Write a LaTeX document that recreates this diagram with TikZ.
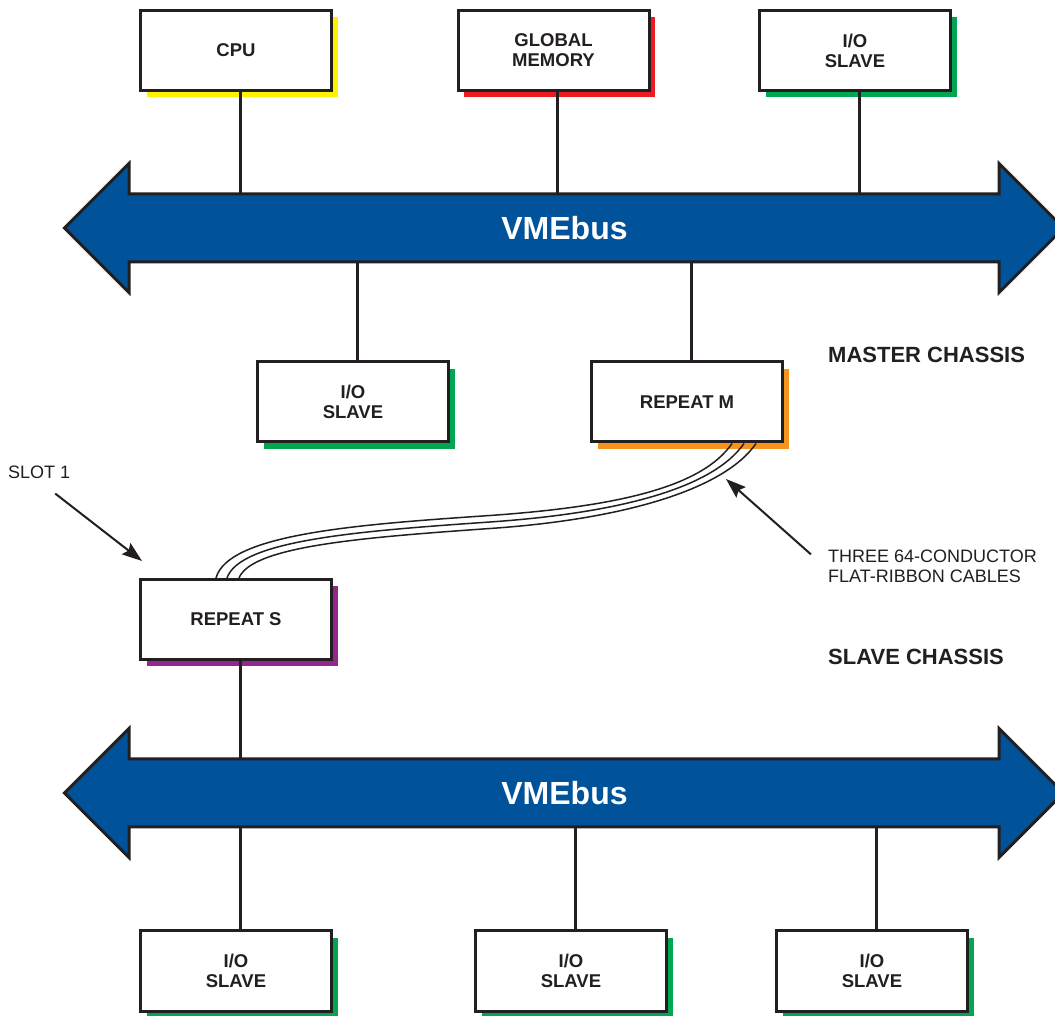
\documentclass[tikz,border=0pt]{standalone}
\usepackage{fontspec}
\setmainfont{Liberation Sans}
\usetikzlibrary{arrows.meta,shadows}
\definecolor{ink}{HTML}{231F20}
\definecolor{busblue}{HTML}{00529B}
\definecolor{shyellow}{HTML}{FFF200}
\definecolor{shred}{HTML}{ED1C24}
\definecolor{shgreen}{HTML}{00A651}
\definecolor{shorange}{HTML}{F7941D}
\definecolor{shpurple}{HTML}{92278F}
\tikzset{
  unitbox/.style={draw=ink, line width=3pt, fill=white, minimum width=191pt, minimum height=80pt,
    inner sep=0pt, align=center, text=ink, font=\fontsize{18.5}{20}\selectfont\bfseries,
    general shadow={fill=#1, shadow xshift=6pt, shadow yshift=-7pt}},
  wire/.style={draw=ink, line width=3pt},
  busoutline/.style={draw=ink, line width=3pt, fill=busblue, line join=miter},
  bustext/.style={text=white, font=\fontsize{32}{36}\selectfont\bfseries,
    minimum width=870pt, minimum height=68pt, inner sep=0pt},
  cable/.style={draw=ink, line width=1.5pt},
  note/.style={text=ink, font=\fontsize{18}{20}\selectfont, inner sep=0pt, align=left},
  chassis/.style={text=ink, font=\fontsize{22}{24}\selectfont\bfseries, inner sep=0pt},
  pointer/.style={draw=ink, line width=2pt, -{Stealth[length=20pt,width=14pt,inset=3pt]}}
}
\begin{document}
\begin{tikzpicture}[scale=1.000000,x=1pt,y=1pt]
\useasboundingbox[fill=white] (0.000000,0.000000) rectangle (1055.000000,1015.000000);
% Drawing buses
% Bus 1: master chassis
\draw[busoutline] (64.500000,787.000000) -- (129.000000,851.500000) -- (129.000000,821.000000)
  -- (999.000000,821.000000) -- (999.000000,851.500000) -- (1063.500000,787.000000)
  -- (999.000000,722.500000) -- (999.000000,753.000000) -- (129.000000,753.000000)
  -- (129.000000,722.500000) -- cycle;
\node[bustext] (busa) at (564.500000,787.000000) {VMEbus};
% Bus 2: slave chassis
\draw[busoutline] (64.500000,222.000000) -- (129.000000,286.500000) -- (129.000000,256.000000)
  -- (999.000000,256.000000) -- (999.000000,286.500000) -- (1063.500000,222.000000)
  -- (999.000000,157.500000) -- (999.000000,188.000000) -- (129.000000,188.000000)
  -- (129.000000,157.500000) -- cycle;
\node[bustext] (busb) at (564.500000,222.000000) {VMEbus};
% Done with buses; drawing boards
% Master chassis, above bus 1
\node[unitbox=shyellow] (cpu) at (236.000000,964.500000) {CPU};
\node[unitbox=shred] (gmem) at (553.500000,964.500000) {GLOBAL\\MEMORY};
\node[unitbox=shgreen] (iotop) at (855.000000,964.500000) {I/O\\SLAVE};
% Master chassis, below bus 1
\node[unitbox=shgreen] (iomid) at (353.000000,613.000000) {I/O\\SLAVE};
\node[unitbox=shorange] (repm) at (687.000000,613.000000) {REPEAT M};
% Slave chassis
\node[unitbox=shpurple] (reps) at (236.000000,395.500000) {REPEAT S};
\node[unitbox=shgreen] (iobl) at (236.000000,44.000000) {I/O\\SLAVE};
\node[unitbox=shgreen] (iobc) at (571.000000,44.000000) {I/O\\SLAVE};
\node[unitbox=shgreen] (iobr) at (872.000000,44.000000) {I/O\\SLAVE};
% Done with boards; drawing bus taps
\foreach \brd/\bus/\side/\end in {cpu/busa/south/north, gmem/busa/south/north, iotop/busa/south/north,
    iomid/busa/north/south, repm/busa/north/south, reps/busb/south/north,
    iobl/busb/north/south, iobc/busb/north/south, iobr/busb/north/south}
  \draw[wire] ([xshift=4pt]\brd.\side) -- ([xshift=4pt]\brd.\side |- \bus.\end);
% Done with taps; drawing cables
\draw[cable] ([xshift=45pt]repm.south) .. controls (702.000000,528.000000) and (618.000000,508.500000) .. (490.000000,499.500000)
  .. controls (357.000000,490.500000) and (228.000000,481.000000) .. ([xshift=-20pt]reps.north);
\draw[cable] ([xshift=57pt]repm.south) .. controls (713.000000,527.000000) and (620.000000,502.000000) .. (490.000000,493.000000)
  .. controls (360.000000,484.000000) and (240.000000,475.000000) .. ([xshift=-9pt]reps.north);
\draw[cable] ([xshift=69pt]repm.south) .. controls (724.000000,525.000000) and (622.000000,495.500000) .. (490.000000,486.500000)
  .. controls (363.000000,477.500000) and (252.000000,469.000000) .. ([xshift=3pt]reps.north);
% Done with cables; drawing labels
\node[chassis, anchor=west] (master) at (828.000000,660.000000) {MASTER CHASSIS};
\node[chassis, anchor=west] (slave) at (828.000000,358.000000) {SLAVE CHASSIS};
\node[note, anchor=west] (ribbon) at (828.000000,449.000000) {THREE 64-CONDUCTOR\\FLAT-RIBBON CABLES};
\node[note, anchor=west] (slot) at (8.000000,543.000000) {SLOT 1};
\coordinate (ribbontip) at (726.000000,536.000000);
\coordinate (slottip) at (142.000000,454.000000);
\draw[pointer] ([shift={(-17pt,-5pt)}]ribbon.north west) -- (ribbontip);
\draw[pointer] ([shift={(16pt,-15pt)}]slot.south) -- (slottip);
% Done with labels
\end{tikzpicture}
\end{document}
